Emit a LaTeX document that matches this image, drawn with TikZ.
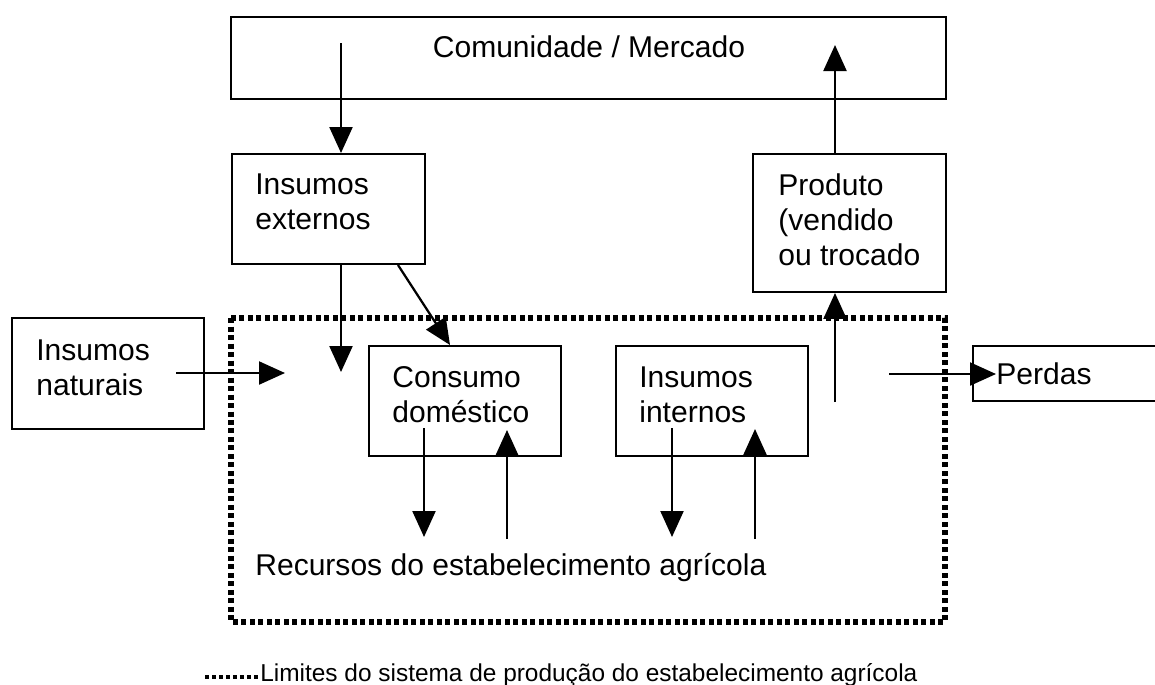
\documentclass[tikz,border=0pt]{standalone}
\usepackage{fontspec}
\setmainfont{Liberation Sans}
\usetikzlibrary{arrows.meta}

\begin{document}
\begin{tikzpicture}[x=0.02cm, y=-0.02cm,
    box/.style={draw, line width=0.04cm, inner sep=0pt},
    txt/.style={inner sep=0pt, align=left, font=\fontsize{17.1pt}{19.9pt}\selectfont},
    flow/.style={line width=0.045cm, -{Triangle[length=0.52cm, width=0.46cm]}},
    border/.style={line width=0.11cm, dash pattern=on 0.1cm off 0.07cm}]
    \useasboundingbox (0,0) rectangle (1155,684);
    % boxes
    \node [box, minimum width=14.3cm, minimum height=1.64cm] (mkt) at (588.5,58) {};
    \node [box, minimum width=3.86cm, minimum height=2.2cm] (ext) at (328.5,209) {};
    \node [box, minimum width=3.86cm, minimum height=2.76cm] (prod) at (849.5,223) {};
    \node [box, minimum width=3.84cm, minimum height=2.22cm] (nat) at (108,373.5) {};
    \node [box, minimum width=3.84cm, minimum height=2.2cm] (cons) at (465,401) {};
    \node [box, minimum width=3.84cm, minimum height=2.2cm] (int) at (712,401) {};
    \node [box, anchor=west, minimum width=4cm, minimum height=1.1cm] (loss) at (972,373.5) {};
    \draw [border] (231,318) rectangle (945,622);
    % texts
    \node [txt] (mktT) at (589,47) {Comunidade / Mercado};
    \node [txt, anchor=west] (extT) at (255,202) {Insumos\\externos};
    \node [txt, anchor=west] (prodT) at (778,220) {Produto\\(vendido\\ou trocado};
    \node [txt, anchor=west] (natT) at (36,368) {Insumos\\naturais};
    \node [txt, anchor=west] (consT) at (392,395) {Consumo\\doméstico};
    \node [txt, anchor=west] (intT) at (639,395) {Insumos\\internos};
    \node [txt, anchor=west] (lossT) at (996,374) {Perdas};
    \node [txt, anchor=west] (resT) at (255,568) {Recursos do estabelecimento agrícola};
    % free ends
    \coordinate (mktIn) at (341,43);
    \coordinate (mktOut) at (835,45);
    \coordinate (extEnd) at (341,372);
    \coordinate (natS) at (176,373);
    \coordinate (natE) at (285,373);
    \coordinate (prodS) at (835,402);
    \coordinate (lossS) at (889,374);
    \coordinate (lossE) at (996,374);
    \coordinate (consA) at (424,428);
    \coordinate (consB) at (424,537);
    \coordinate (consC) at (507,539);
    \coordinate (consD) at (507,430);
    \coordinate (intA) at (672,428);
    \coordinate (intB) at (672,537);
    \coordinate (intC) at (755,539);
    \coordinate (intD) at (755,429);
    % arrows
    \draw [flow] (mktIn) -- (mktIn |- ext.north);
    \draw [flow] (extEnd |- ext.south) -- (extEnd);
    \draw [flow] ([xshift=-0.56cm]ext.south east) -- ([xshift=-0.3cm]cons.north);
    \draw [flow] (natS) -- (natE);
    \draw [flow] (mktOut |- prod.north) -- (mktOut);
    \draw [flow] (prodS) -- (prodS |- prod.south);
    \draw [flow] (lossS) -- (lossE);
    \draw [flow] (consA) -- (consB);
    \draw [flow] (consC) -- (consD);
    \draw [flow] (intA) -- (intB);
    \draw [flow] (intC) -- (intD);
    % legend
    \coordinate (legA) at (205,677);
    \coordinate (legB) at (258,677);
    \draw [line width=0.08cm, dash pattern=on 0.08cm off 0.06cm] (legA) -- (legB);
    \node [inner sep=0pt, anchor=west, font=\fontsize{13.9pt}{16pt}\selectfont] (legT) at (260,675) {Limites do sistema de produção do estabelecimento agrícola};
\end{tikzpicture}
\end{document}
